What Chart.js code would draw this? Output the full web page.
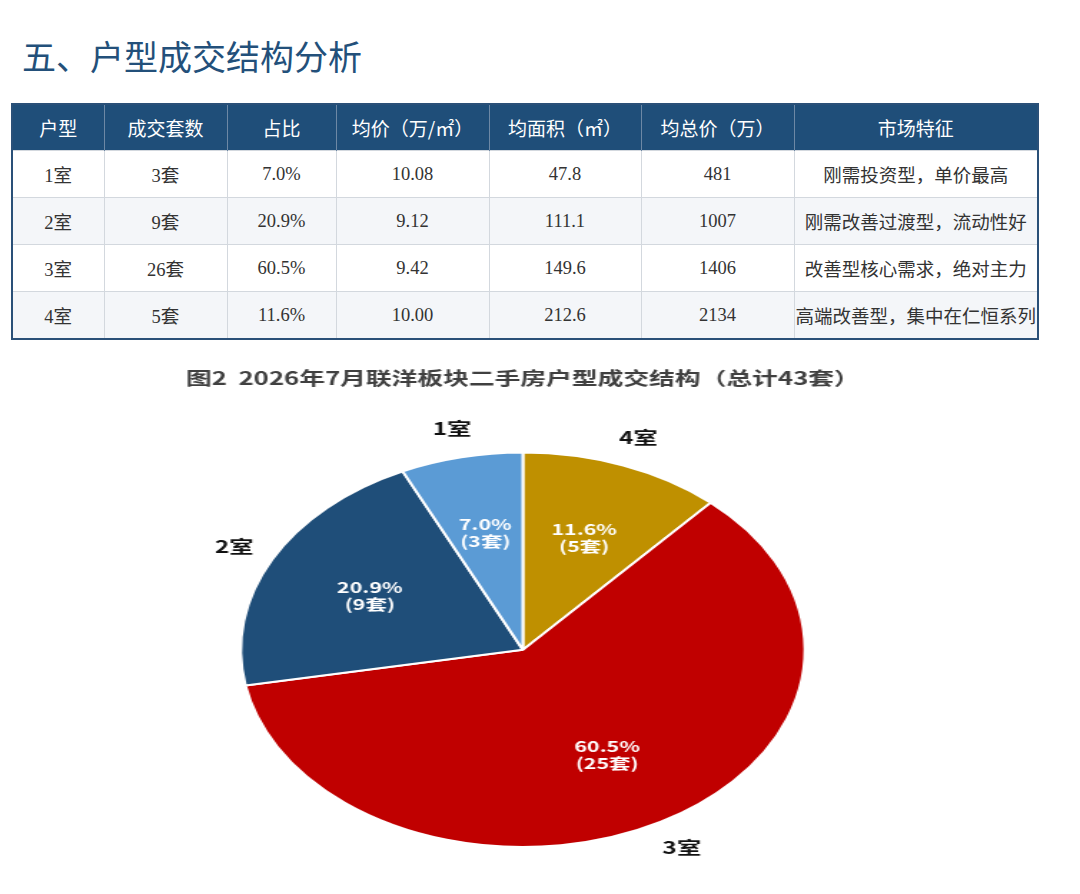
<!DOCTYPE html>
<html>
<head>
<meta charset="utf-8">
<script src="https://cdn.jsdelivr.net/npm/chart.js@4/dist/chart.umd.min.js"></script>
<style>
    html, body { margin: 0; padding: 0; background: #ffffff; }
    body { width: 1080px; height: 894px; position: relative; overflow: hidden; font-family: "Noto Sans CJK SC", sans-serif; }
    #pageTitle { position: absolute; left: 22px; top: 36px; font-size: 34px; line-height: 40px; color: #23507a; white-space: nowrap; }
    #dealTable { position: absolute; left: 11px; top: 103px; width: 1026px; border-collapse: collapse; border: 2px solid #2a5078; table-layout: fixed; }
    #dealTable th { background: #1f4e79; color: #ffffff; font-weight: normal; font-size: 19px; height: 45px; padding: 0; border-right: 1px solid #6d88a5; }
    #dealTable td { font-family: "Liberation Serif", "Noto Sans CJK SC", serif; color: #333333; font-size: 18.5px; height: 46px; padding: 0; text-align: center; border: 1px solid #d3d8de; white-space: nowrap; overflow: visible; }
    #dealTable tr.alt td { background: #f4f6f9; }
    #pieCanvas { position: absolute; left: 0; top: 355px; }
</style>
</head>
<body>
<div id="pageTitle">五、户型成交结构分析</div>
<table id="dealTable">
    <colgroup>
        <col style="width:92px"><col style="width:123px"><col style="width:109px"><col style="width:153px">
        <col style="width:152px"><col style="width:153px"><col style="width:244px">
    </colgroup>
    <thead><tr id="headRow"></tr></thead>
    <tbody id="tableBody"></tbody>
</table>
<!-- the figure is stretched sideways like the original: 755 px drawn, shown at 1080 px -->
<canvas id="pieCanvas" width="755" height="539" style="width:1080px;height:539px"></canvas>

<script>
(function () {

// -------------------------------------------------------------------------------------------------------
// data

var headers = ['户型', '成交套数', '占比', '均价（万/㎡）', '均面积（㎡）', '均总价（万）', '市场特征'];
var rooms = ['1室', '2室', '3室', '4室'];
var dealCounts = ['3套', '9套', '26套', '5套'];
var shares = [7.0, 20.9, 60.5, 11.6];
var avgPrice = ['10.08', '9.12', '9.42', '10.00'];
var avgArea = ['47.8', '111.1', '149.6', '212.6'];
var avgTotal = ['481', '1007', '1406', '2134'];
var marketNotes = ['刚需投资型，单价最高', '刚需改善过渡型，流动性好', '改善型核心需求，绝对主力', '高端改善型，集中在仁恒系列'];

// counts as printed on the pie itself
var pieCounts = [3, 9, 25, 5];
var pieColors = ['#5b9bd5', '#1f4e79', '#c00000', '#bf9000'];
var chartTitle = '图2  2026年7月联洋板块二手房户型成交结构（总计43套）';

// -------------------------------------------------------------------------------------------------------
// table

try {
    var headRow = document.getElementById('headRow');
    headers.forEach(function (h) {
        var th = document.createElement('th');
        th.textContent = h;
        headRow.appendChild(th);
    });

    var body = document.getElementById('tableBody');
    for (var i = 0; i < rooms.length; i++) {
        var tr = document.createElement('tr');
        if (i % 2 === 1) tr.className = 'alt';
        var cells = [rooms[i], dealCounts[i], shares[i].toFixed(1) + '%', avgPrice[i], avgArea[i], avgTotal[i], marketNotes[i]];
        cells.forEach(function (c) {
            var td = document.createElement('td');
            td.textContent = c;
            tr.appendChild(td);
        });
        body.appendChild(tr);
    }
} catch (e) {
    console.log("Error in table: " + e);
}

// -------------------------------------------------------------------------------------------------------
// pie labels (inside: % + count, outside: room name)

var pieLabels = {
    id: 'pieLabels',
    afterDatasetsDraw: function (chart) {
        var ctx = chart.ctx;
        var meta = chart.getDatasetMeta(0);
        var labels = chart.data.labels;
        var ds = chart.data.datasets[0];

        ctx.save();
        ctx.textAlign = 'center';
        ctx.textBaseline = 'middle';

        meta.data.forEach(function (arc, idx) {
            var p = arc.getProps(['x', 'y', 'startAngle', 'endAngle', 'outerRadius'], true);
            var mid = (p.startAngle + p.endAngle) / 2;

            // value text inside slice
            var ix = p.x + Math.cos(mid) * p.outerRadius * 0.61;
            var iy = p.y + Math.sin(mid) * p.outerRadius * 0.61;
            ctx.fillStyle = '#ffffff';
            ctx.font = 'bold 15px "Noto Sans CJK SC", sans-serif';
            ctx.fillText(ds.data[idx].toFixed(1) + '%', ix, iy - 8);
            ctx.fillText('(' + ds.counts[idx] + '套)', ix, iy + 9);

            // category name outside
            var ox = p.x + Math.cos(mid) * p.outerRadius * 1.15;
            var oy = p.y + Math.sin(mid) * p.outerRadius * 1.15;
            ctx.fillStyle = '#111111';
            ctx.font = 'bold 17px "Noto Sans CJK SC", sans-serif';
            ctx.fillText(labels[idx], ox, oy);
        });

        ctx.restore();
    }
};

// -------------------------------------------------------------------------------------------------------
// pie chart (drawn clockwise from 12 o'clock: 4室, 3室, 2室, 1室)

window.pie_chart = function (canvasId) {
    try {
        var canvas = document.getElementById(canvasId);
        if (!canvas) return;

        var order = [3, 2, 1, 0];

        return new Chart(canvas.getContext("2d"), {
            type: 'pie',
            data: {
                labels: order.map(function (k) { return rooms[k]; }),
                datasets: [{
                    data: order.map(function (k) { return shares[k]; }),
                    counts: order.map(function (k) { return pieCounts[k]; }),
                    backgroundColor: order.map(function (k) { return pieColors[k]; }),
                    borderColor: '#ffffff',
                    borderWidth: 2
                }]
            },
            options: {
                responsive: false,
                animation: false,
                layout: { padding: { left: 0, right: 24, top: 12, bottom: 46 } },
                plugins: {
                    legend: { display: false },
                    tooltip: { enabled: false },
                    title: {
                        display: true,
                        text: chartTitle,
                        color: '#404040',
                        font: { family: '"Noto Sans CJK SC", sans-serif', size: 18, weight: 'bold', lineHeight: 1.2 },
                        padding: { top: 0, bottom: 63 }
                    }
                }
            },
            plugins: [pieLabels]
        });
    } catch (e) {
        console.log("Error in pie_chart: " + e);
    }
};

window.pie_chart('pieCanvas');

})();
</script>
</body>
</html>
